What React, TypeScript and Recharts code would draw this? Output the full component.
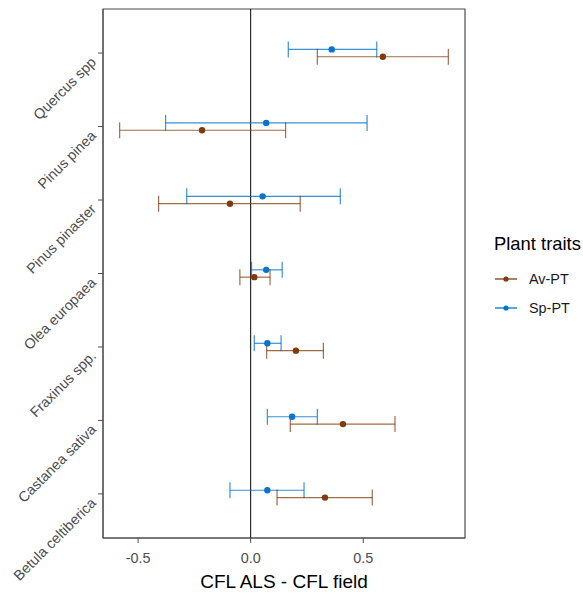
import React from 'react'
import {
    ScatterChart,
    Scatter,
    XAxis,
    YAxis,
    ErrorBar,
    ReferenceLine,
    ReferenceArea,
    Legend,
} from 'recharts'

const species = [
    'Quercus spp',
    'Pinus pinea',
    'Pinus pinaster',
    'Olea europaea',
    'Fraxinus spp.',
    'Castanea sativa',
    'Betula celtiberica',
]

// Av-PT (brown)
const avMean = [0.587, -0.216, -0.092, 0.016, 0.201, 0.41, 0.33]
const avLow = [0.296, -0.582, -0.409, -0.048, 0.071, 0.176, 0.117]
const avHigh = [0.878, 0.155, 0.22, 0.086, 0.323, 0.641, 0.54]

// Sp-PT (blue)
const spMean = [0.36, 0.069, 0.053, 0.069, 0.074, 0.184, 0.074]
const spLow = [0.167, -0.378, -0.284, 0.004, 0.016, 0.074, -0.092]
const spHigh = [0.56, 0.517, 0.398, 0.14, 0.135, 0.296, 0.237]

const xTicks = [-0.5, 0, 0.5]
const xDomain = [-0.656, 0.952]
const yDomain = [-0.6, 6.6]
const dodge = 0.05

const brown = '#7f3b0c'
const blue = '#0874cc'
const grey = '#4d4d4d'
const font = '"Liberation Sans", Arial, sans-serif'

const build = (mean: number[], low: number[], high: number[], shift: number) =>
    mean.map((m, i) => ({
        x: m,
        y: i + shift,
        ex: [m - low[i], high[i] - m],
    }))

const avData = build(avMean, avLow, avHigh, dodge)
const spData = build(spMean, spLow, spHigh, -dodge)

const YTick = (props: any) => {
    const { x, y, payload } = props
    const tx = x + 1
    const ty = y + 10
    return (
        <text
            x={tx}
            y={ty}
            transform={`rotate(-45, ${tx}, ${ty})`}
            textAnchor="end"
            fontSize={14.4}
            fill={grey}
            fontFamily={font}
        >
            {species[payload.value]}
        </text>
    )
}

const dot = (color: string) => (p: any) =>
    <circle cx={p.cx} cy={p.cy} r={3.2} fill={color} />

const LegendBox = () => (
    <div style={{ fontFamily: font, color: '#000' }}>
        <div style={{ fontSize: 18.4, height: 22, lineHeight: '22px', marginBottom: 9 }}>
            Plant traits
        </div>
        {[
            { name: 'Av-PT', color: brown },
            { name: 'Sp-PT', color: blue },
        ].map((it) => (
            <div
                key={it.name}
                style={{ display: 'flex', alignItems: 'center', height: 29 }}
            >
                <svg width={35} height={12}>
                    <line x1={1} y1={6} x2={23} y2={6} stroke={it.color} strokeWidth={1.3} />
                    <circle cx={12} cy={6} r={2.6} fill={it.color} />
                </svg>
                <span style={{ fontSize: 14.4, color: '#1a1a1a' }}>{it.name}</span>
            </div>
        ))}
    </div>
)

const App = () => {
    return (
        <div style={{ position: 'absolute', left: 0, top: 0 }}>
            <ScatterChart
                width={583}
                height={594}
                margin={{ top: 9, right: 118, bottom: 0, left: 0 }}
            >
                <ReferenceArea
                    x1={xDomain[0]}
                    x2={xDomain[1]}
                    y1={yDomain[0]}
                    y2={yDomain[1]}
                    fill="none"
                    stroke={grey}
                    strokeWidth={1.2}
                    ifOverflow="extendDomain"
                />
                <XAxis
                    type="number"
                    dataKey="x"
                    domain={xDomain}
                    ticks={xTicks}
                    allowDataOverflow
                    tickFormatter={(v: number) => v.toFixed(1)}
                    tick={{ fill: grey, fontSize: 14.4, fontFamily: font }}
                    tickSize={5}
                    tickMargin={10}
                    axisLine={{ stroke: grey }}
                    tickLine={{ stroke: grey }}
                    height={56}
                    label={{
                        value: 'CFL ALS - CFL field',
                        position: 'insideBottom',
                        offset: 6,
                        fill: '#000',
                        fontSize: 19,
                        fontFamily: font,
                    }}
                />
                <YAxis
                    type="number"
                    dataKey="y"
                    domain={yDomain}
                    ticks={[0, 1, 2, 3, 4, 5, 6]}
                    reversed
                    allowDataOverflow
                    width={103}
                    tickSize={5}
                    tickMargin={2}
                    axisLine={{ stroke: grey }}
                    tickLine={{ stroke: grey }}
                    tick={<YTick />}
                />
                <ReferenceLine x={0} stroke="#000" strokeWidth={1} />
                <Scatter
                    name="Sp-PT"
                    data={spData}
                    fill={blue}
                    shape={dot(blue)}
                    isAnimationActive={false}
                >
                    <ErrorBar
                        dataKey="ex"
                        direction="x"
                        width={8}
                        stroke={blue}
                        strokeOpacity={0.8}
                        strokeWidth={1.2}
                    />
                </Scatter>
                <Scatter
                    name="Av-PT"
                    data={avData}
                    fill={brown}
                    shape={dot(brown)}
                    isAnimationActive={false}
                >
                    <ErrorBar
                        dataKey="ex"
                        direction="x"
                        width={8}
                        stroke={brown}
                        strokeOpacity={0.75}
                        strokeWidth={1.2}
                    />
                </Scatter>
                <Legend
                    layout="vertical"
                    align="center"
                    verticalAlign="middle"
                    content={() => <LegendBox />}
                    wrapperStyle={{ position: 'absolute', left: 494, top: 233, width: 90 }}
                />
            </ScatterChart>
        </div>
    )
}

export default App
